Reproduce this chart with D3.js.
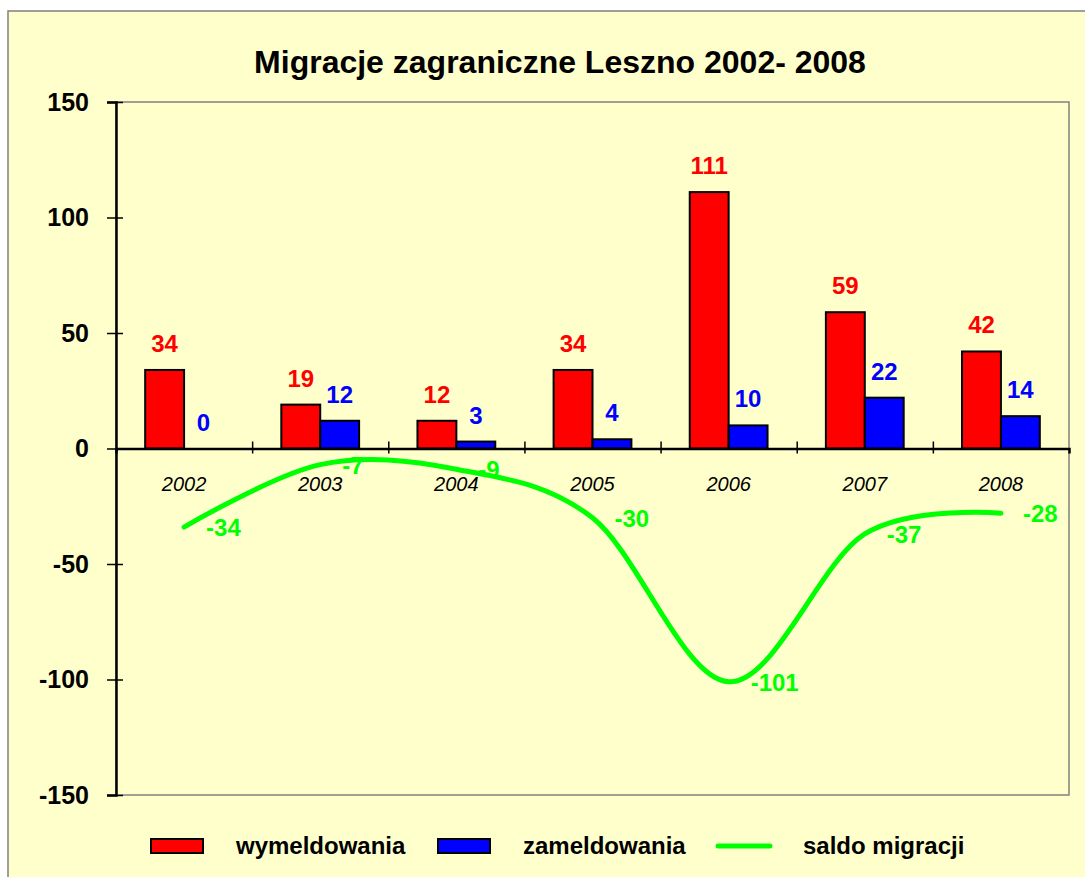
<!DOCTYPE html>
<html lang="pl">
<head>
<meta charset="UTF-8">
<title>Migracje zagraniczne Leszno 2002- 2008</title>
<script src="https://d3js.org/d3.v7.min.js"></script>
<style>
  body { margin: 0; background: #fff; }
  text { font-family: "Liberation Sans", Arial, sans-serif; }
</style>
</head>
<body>
<svg id="chart" width="1085" height="877"></svg>
<script>
// data
const years = ["2002", "2003", "2004", "2005", "2006", "2007", "2008"];
const wymeldowania = [34, 19, 12, 34, 111, 59, 42];
const zameldowania = [0, 12, 3, 4, 10, 22, 14];
const saldo = [-34, -7, -9, -30, -101, -37, -28];
const yTicks = [-150, -100, -50, 0, 50, 100, 150];

const svg = d3.select("#chart");
const plot = { left: 116, right: 1069, top: 102, bottom: 795 };

// chart area
svg.append("rect")
    .attr("x", 8).attr("y", 11)
    .attr("width", 1110).attr("height", 900)
    .attr("fill", "#FFFFCC")
    .attr("stroke", "#808080").attr("stroke-width", 1.5);

svg.append("text")
    .attr("x", 560).attr("y", 73)
    .attr("text-anchor", "middle")
    .style("font-size", "32px").style("font-weight", "bold")
    .text("Migracje zagraniczne Leszno 2002- 2008");

const x = d3.scaleBand()
    .domain(years)
    .range([plot.left, plot.right])
    .paddingInner(0).paddingOuter(0);

const y = d3.scaleLinear()
    .domain([-150, 150])
    .range([plot.bottom, plot.top]);

const barW = x.bandwidth() / 3.5;   // gap width 150%

// plot area border
svg.append("rect")
    .attr("x", plot.left).attr("y", plot.top)
    .attr("width", plot.right - plot.left).attr("height", plot.bottom - plot.top)
    .attr("fill", "none")
    .attr("stroke", "#808080").attr("stroke-width", 1.5);

// y axis
const yAxis = svg.append("g")
    .attr("transform", `translate(${plot.left},0)`)
    .call(d3.axisLeft(y).tickValues(yTicks).tickSize(9).tickPadding(18)
        .tickFormat((d) => String(d)));
yAxis.select(".domain").attr("stroke", "#000").attr("stroke-width", 2.5);
yAxis.selectAll(".tick line").attr("x1", 7).attr("stroke-width", 1.5);
yAxis.selectAll(".tick text")
    .style("font-size", "25px").style("font-weight", "bold")
    .attr("fill", "#000");

// bars
const groups = svg.append("g").selectAll("g")
    .data(years)
    .join("g");

groups.append("rect")
    .attr("x", (d) => x(d) + x.bandwidth() / 2 - barW)
    .attr("y", (d, i) => y(Math.max(0, wymeldowania[i])))
    .attr("width", barW)
    .attr("height", (d, i) => Math.abs(y(wymeldowania[i]) - y(0)))
    .attr("fill", "#FF0000")
    .attr("stroke", "#000").attr("stroke-width", 2);

groups.append("rect")
    .attr("x", (d) => x(d) + x.bandwidth() / 2)
    .attr("y", (d, i) => y(Math.max(0, zameldowania[i])))
    .attr("width", barW)
    .attr("height", (d, i) => Math.abs(y(zameldowania[i]) - y(0)))
    .attr("fill", "#0000FF")
    .attr("stroke", "#000").attr("stroke-width", 2);

// x axis on zero line, ticks at category borders
const xb = d3.scaleLinear().domain([0, years.length]).range([plot.left, plot.right]);
const xAxis = svg.append("g")
    .attr("transform", `translate(0,${y(0)})`)
    .call(d3.axisBottom(xb).tickValues([1, 2, 3, 4, 5, 6]).tickSize(5).tickFormat(""));
xAxis.select(".domain").attr("stroke", "#000").attr("stroke-width", 2.5);
xAxis.selectAll(".tick line").attr("y1", -7).attr("stroke-width", 1.5);

svg.append("g").selectAll("text")
    .data(years)
    .join("text")
    .attr("x", (d) => x(d) + x.bandwidth() / 2)
    .attr("y", y(0) + 42)
    .attr("text-anchor", "middle")
    .style("font-size", "20px").style("font-style", "italic")
    .text((d) => d);

// bar labels
groups.append("text")
    .attr("x", (d) => x(d) + x.bandwidth() / 2 - barW / 2)
    .attr("y", (d, i) => y(wymeldowania[i]) - 18)
    .attr("text-anchor", "middle")
    .attr("fill", "#FF0000")
    .style("font-size", "24px").style("font-weight", "bold")
    .text((d, i) => wymeldowania[i]);

groups.append("text")
    .attr("x", (d) => x(d) + x.bandwidth() / 2 + barW / 2)
    .attr("y", (d, i) => y(zameldowania[i]) - 18)
    .attr("text-anchor", "middle")
    .attr("fill", "#0000FF")
    .style("font-size", "24px").style("font-weight", "bold")
    .text((d, i) => zameldowania[i]);

// saldo line
const line = d3.line()
    .x((d, i) => x(years[i]) + x.bandwidth() / 2)
    .y((d) => y(d))
    .curve(d3.curveCardinal.tension(0));

svg.append("path")
    .datum(saldo)
    .attr("d", line)
    .attr("fill", "none")
    .attr("stroke", "#00FF00")
    .attr("stroke-width", 5)
    .attr("stroke-linecap", "round");

svg.append("g").selectAll("text")
    .data(saldo)
    .join("text")
    .attr("x", (d, i) => x(years[i]) + x.bandwidth() / 2 + 22)
    .attr("y", (d) => y(d) + 9)
    .attr("fill", "#00FF00")
    .style("font-size", "24px").style("font-weight", "bold")
    .text((d) => d);

// legend
const legend = svg.append("g").attr("transform", "translate(0,846)");
const legendItems = [
  { name: "wymeldowania", color: "#FF0000", type: "rect", x: 151 },
  { name: "zameldowania", color: "#0000FF", type: "rect", x: 438 },
  { name: "saldo migracji", color: "#00FF00", type: "line", x: 718 }
];
legendItems.forEach((it) => {
  if (it.type === "rect") {
    legend.append("rect")
        .attr("x", it.x).attr("y", -7)
        .attr("width", 52).attr("height", 14)
        .attr("fill", it.color)
        .attr("stroke", "#000").attr("stroke-width", 2);
  } else {
    legend.append("line")
        .attr("x1", it.x).attr("x2", it.x + 52)
        .attr("y1", 0).attr("y2", 0)
        .attr("stroke", it.color).attr("stroke-width", 5)
        .attr("stroke-linecap", "round");
  }
  legend.append("text")
      .attr("x", it.x + 85).attr("y", 8)
      .style("font-size", "24px").style("font-weight", "bold")
      .text(it.name);
});
</script>
</body>
</html>
